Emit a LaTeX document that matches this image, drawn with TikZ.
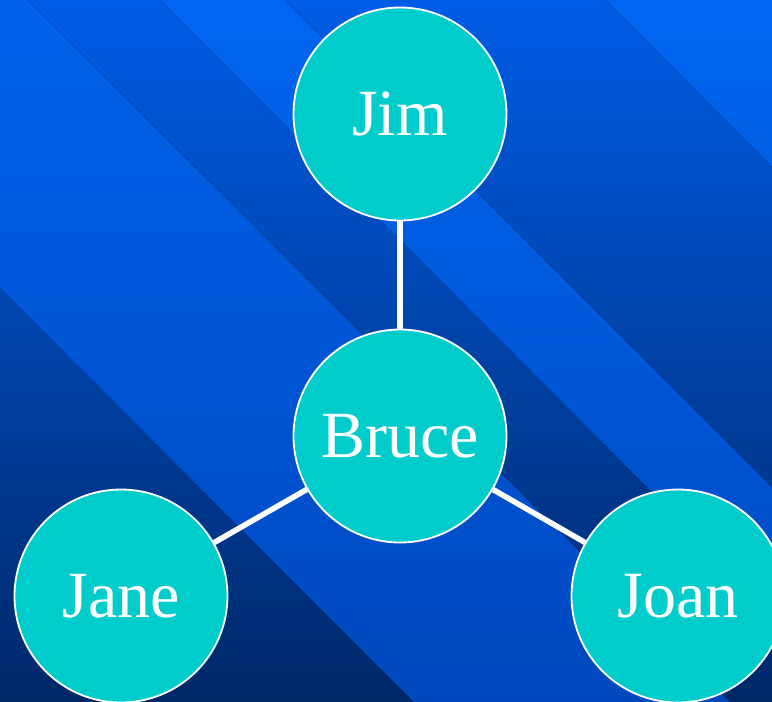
\documentclass[tikz,border=0pt]{standalone}
\usepackage{fontspec}
\setmainfont{Liberation Serif}
\definecolor{bgtop}{HTML}{005CE6}
\definecolor{bgmid}{HTML}{0048BC}
\definecolor{bgbot}{HTML}{002868}
\definecolor{sttop}{HTML}{0066F2}
\definecolor{stmid}{HTML}{0056D8}
\definecolor{stbot}{HTML}{0048BE}
\definecolor{sttopA}{HTML}{0062EC}
\definecolor{cyanfill}{HTML}{00CCCC}
\begin{document}
\begin{tikzpicture}[x=1pt,y=-1pt,
  stripe/.style={top color=sttop, middle color=stmid, bottom color=stbot},
  stripeA/.style={top color=sttopA, middle color=stmid, bottom color=stbot},
  person/.style={circle, fill=cyanfill, draw=white, line width=1.8pt,
    minimum size=213pt, inner sep=0pt, text=white,
    font=\fontsize{66}{66}\selectfont},
  link/.style={draw=white, line width=5.5pt}]
\useasboundingbox (0,0) rectangle (772,702);
\clip (0,0) rectangle (772,702);
% background
\fill[top color=bgtop, middle color=bgmid, bottom color=bgbot] (0,0) rectangle (772,702);
\fill[stripeA] (-288,0) -- (28,0) -- (730,702) -- (414,702) -- cycle;
\fill[stripe] (160,0) -- (285,0) -- (987,702) -- (862,702) -- cycle;
\fill[stripe] (605,0) -- (1400,0) -- (1400,702) -- (1307,702) -- cycle;
% nodes
\node[person] (jim) at (400,114) {Jim};
\node[person] (bruce) at (400,436) {Bruce};
\node[person] (jane) at (121,596) {Jane};
\node[person] (joan) at (678,596) {Joan};
% connectors
\draw[link] (jim) -- (bruce);
\draw[link] (bruce) -- (jane);
\draw[link] (bruce) -- (joan);
\end{tikzpicture}
\end{document}
